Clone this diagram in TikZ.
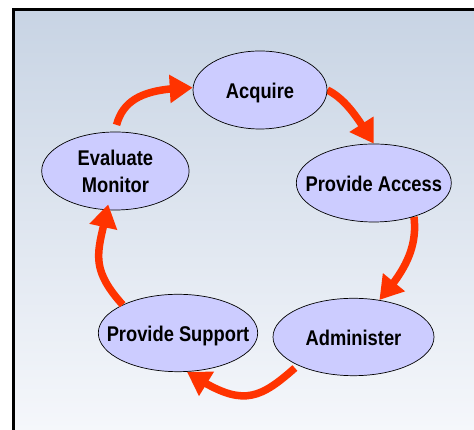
\documentclass[tikz,border=0pt]{standalone}
\usepackage{fontspec}
\setmainfont[FakeStretch=0.86]{Liberation Sans}
\usetikzlibrary{arrows.meta,shapes.geometric,bending}
\pgfdeclarelayer{bg}
\pgfdeclarelayer{arrowlayer}
\pgfsetlayers{bg,arrowlayer,main}
\definecolor{bgtop}{RGB}{200,212,228}
\definecolor{bgbot}{RGB}{245,247,251}
\definecolor{ellfill}{RGB}{204,204,255}
\definecolor{arrowred}{RGB}{255,51,0}
\newcommand{\lbl}[1]{\makebox[0pt]{\rule[-5pt]{0pt}{27pt}#1}}
\tikzset{
  stage/.style={ellipse,draw=black,line width=0.7pt,fill=ellfill,inner sep=0pt,
    align=center,font=\bfseries\fontsize{21.3}{27}\selectfont},
  flow/.style={draw=arrowred,line width=7.5pt,
    -{Triangle[length=23pt,width=27pt,fill=arrowred,flex=1]}}
}
\begin{document}
\begin{tikzpicture}[x=1pt,y=1pt]
\useasboundingbox (0,0) rectangle (474,430);
\node[stage,minimum width=134pt,minimum height=78pt] (acq) at (260,340) {\lbl{Acquire}};
\node[stage,minimum width=147.4pt,minimum height=78pt] (ev) at (115.4,259) {\lbl{Evaluate}\\\lbl{Monitor}};
\node[stage,minimum width=155pt,minimum height=78pt] (pa) at (373.8,247) {\lbl{Provide Access}};
\node[stage,minimum width=159.4pt,minimum height=77.4pt] (ps) at (178,97) {\lbl{Provide Support}};
\node[stage,minimum width=161pt,minimum height=77.4pt] (ad) at (353.5,93) {\lbl{Administer}};
\begin{pgfonlayer}{bg}
  \fill[top color=bgtop,bottom color=bgbot] (15,0) rectangle (474,419);
  \fill[black] (12,0) rectangle (15,422);
  \fill[black] (12,419) rectangle (474,422);
\end{pgfonlayer}
\begin{pgfonlayer}{arrowlayer}
  \draw[flow,shorten <=7pt] (ev.91) .. controls +(10,37) and +(-43,-1) .. (acq.178);
  \draw[flow] (acq.0) .. controls +(20,-10) and +(-14,22) .. (pa.north);
  \draw[flow] (pa.-40.6) .. controls +(4,-33) and +(23,26) .. (ad.55.6);
  \draw[flow,shorten <=4pt] (ad.207.4) .. controls +(-41.7,-37) and +(53,-35) .. (ps.-77.3);
\end{pgfonlayer}
\draw[flow,shorten >=-5.5pt] (ps.153) .. controls +(-34,38) and +(-9,-42) .. (ev.-102);
\end{tikzpicture}
\end{document}
